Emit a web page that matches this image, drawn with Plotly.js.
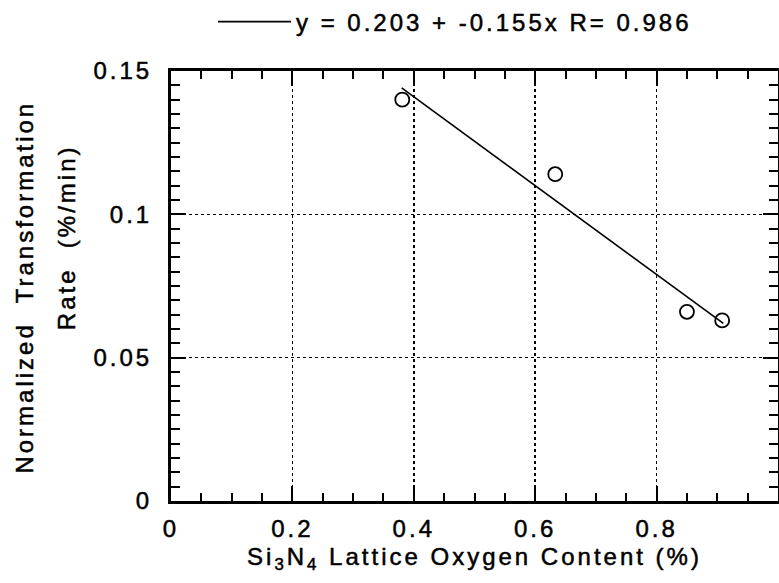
<!DOCTYPE html>
<html>
<head>
<meta charset="utf-8">
<script src="https://cdn.plot.ly/plotly-3.0.1.min.js"></script>
<style>
  html, body { margin: 0; padding: 0; background: #fff; }
  #chart { width: 779px; height: 583px; }
  text { letter-spacing: 3px; }
  #chart svg text { stroke: #000; stroke-width: 0.5px; }
</style>
</head>
<body>
<div id="chart"></div>
<script>
const oxygenContent = [0.381, 0.633, 0.850, 0.908];     // Si3N4 lattice oxygen content (%)
const transformationRate = [0.140, 0.114, 0.066, 0.063]; // normalized transformation rate (%/min)

// Linear fit reported in the legend
const fitIntercept = 0.203;
const fitSlope = -0.155;
const fitR = 0.986;
const fitXRange = [0.38, 0.91];

// Axis ticks
const xTickValues = [0, 0.2, 0.4, 0.6, 0.8, 1];
const yTickValues = [0, 0.05, 0.1, 0.15];

const fitY = fitXRange.map(x => fitIntercept + fitSlope * x);
const fitName = 'y = ' + fitIntercept.toFixed(3) + ' + ' + fitSlope.toFixed(3) + 'x R= ' + fitR.toFixed(3);

const FONT = 'Liberation Sans, Arial, Helvetica, sans-serif';

const traces = [
  {
    x: fitXRange, y: fitY, type: 'scatter', mode: 'lines',
    name: fitName,
    line: { color: '#000', width: 1.6 },
    showlegend: true
  },
  {
    x: oxygenContent, y: transformationRate, type: 'scatter', mode: 'markers',
    name: 'data',
    marker: { symbol: 'circle-open', size: 14, color: '#000', line: { width: 1.8, color: '#000' } },
    showlegend: false
  }
];

const axisCommon = {
  showline: true, linecolor: '#000', linewidth: 3, mirror: 'allticks',
  ticks: 'inside', tickcolor: '#000', tickwidth: 2, ticklen: 15,
  showgrid: true, gridcolor: '#000', gridwidth: 1.5, griddash: 'dot',
  zeroline: false,
  tickfont: { family: FONT, size: 24, color: '#000' }
};

const layout = {
  width: 779, height: 583,
  margin: { l: 171, r: 1, t: 71, b: 82, autoexpand: false },
  paper_bgcolor: '#fff', plot_bgcolor: '#fff',
  font: { family: FONT, size: 24, color: '#000' },
  xaxis: Object.assign({}, axisCommon, {
    range: [0, 1], tickmode: 'array', tickvals: xTickValues,
    tickangle: 0, ticklabelstandoff: 4,
    minor: { dtick: 0.05, ticks: 'inside', ticklen: 8, tickwidth: 2, tickcolor: '#000', showgrid: false },
    title: { text: 'Si<sub>3</sub>N<sub>4</sub> Lattice Oxygen Content (%)', font: { family: FONT, size: 24, color: '#000' }, standoff: 8 }
  }),
  yaxis: Object.assign({}, axisCommon, {
    range: [0, 0.15], tickmode: 'array', tickvals: yTickValues,
    ticklabelstandoff: 11,
    minor: { dtick: 0.005, ticks: 'inside', ticklen: 9, tickwidth: 2, tickcolor: '#000', showgrid: false },
    title: { text: '' }
  }),
  annotations: [
    {
      text: 'Normalized\u00A0 Transformation', xref: 'paper', yref: 'paper',
      x: -0.241, y: 0.498, xanchor: 'center', yanchor: 'middle',
      textangle: -90, showarrow: false,
      font: { family: FONT, size: 24, color: '#000' }
    },
    {
      text: 'Rate\u00A0 (%/min)', xref: 'paper', yref: 'paper',
      x: -0.171, y: 0.614, xanchor: 'center', yanchor: 'middle',
      textangle: -90, showarrow: false,
      font: { family: FONT, size: 24, color: '#000' }
    }
  ],
  showlegend: true,
  legend: {
    xref: 'container', yref: 'container',
    x: 213 / 779, y: 1 - 22 / 583, xanchor: 'left', yanchor: 'middle',
    bgcolor: 'rgba(0,0,0,0)', borderwidth: 0,
    itemwidth: 73,
    font: { family: FONT, size: 24, color: '#000' }
  }
};

Plotly.newPlot('chart', traces, layout, { displayModeBar: false, staticPlot: true });
</script>
</body>
</html>
